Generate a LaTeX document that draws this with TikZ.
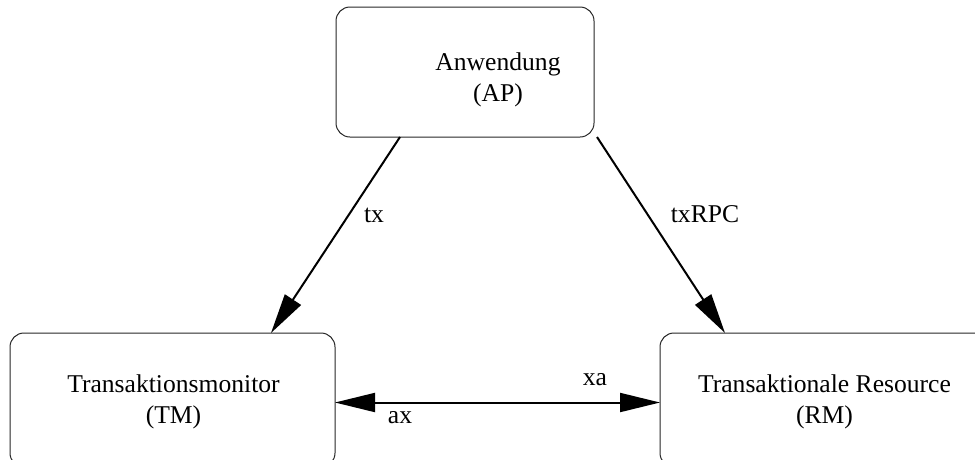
\documentclass[tikz,border=0pt]{standalone}
\usepackage{fontspec}
\setmainfont{Liberation Serif}
\usetikzlibrary{arrows.meta}

\tikzset{
  box/.style={draw=black!85, line width=1pt, rounded corners=14pt,
    inner sep=0pt, outer sep=0pt},
  txt/.style={anchor=base, inner sep=0pt, font=\fontsize{25.6}{31}\selectfont},
  flow/.style={line width=2pt, -{Triangle[length=40pt,width=19pt]}},
  both/.style={line width=2pt, {Triangle[length=40pt,width=19pt]}-{Triangle[length=40pt,width=19pt]}}
}

\begin{document}
\begin{tikzpicture}[x=1pt, y=-1pt]
  \useasboundingbox (0,0) rectangle (975,459);
  \begin{scope}
    \clip (0,0) rectangle (975,459);

    % the three components
    \node[box, minimum width=258pt, minimum height=130pt] (ap) at (465,72) {};
    \node[box, minimum width=325pt, minimum height=134pt] (tm) at (172.5,400) {};
    \node[box, minimum width=329pt, minimum height=134pt] (rm) at (824.5,400) {};

    % component labels
    \node[txt] (ap1) at (498,70.5) {Anwendung};
    \node[txt] (ap2) at (498,101.5) {(AP)};
    \node[txt] (tm1) at (173.5,392) {Transaktionsmonitor};
    \node[txt] (tm2) at (173.5,423) {(TM)};
    \node[txt] (rm1) at (824.5,392) {Transaktionale Resource};
    \node[txt] (rm2) at (824.5,423) {(RM)};

    % interfaces
    \draw[flow] ([xshift=64pt]ap.south west) -- ([xshift=261pt]tm.north west);
    \draw[flow] ([xshift=261pt]ap.south west) -- ([xshift=65pt]rm.north west);
    \draw[both] ([yshift=-2.5pt]tm.east) -- ([yshift=-2.5pt]rm.west);

    % interface names
    \node[txt] (tx) at (374,222) {tx};
    \node[txt] (txrpc) at (705,222) {txRPC};
    \node[txt] (xa) at (595,385) {xa};
    \node[txt] (ax) at (400,423) {ax};
  \end{scope}
\end{tikzpicture}
\end{document}
